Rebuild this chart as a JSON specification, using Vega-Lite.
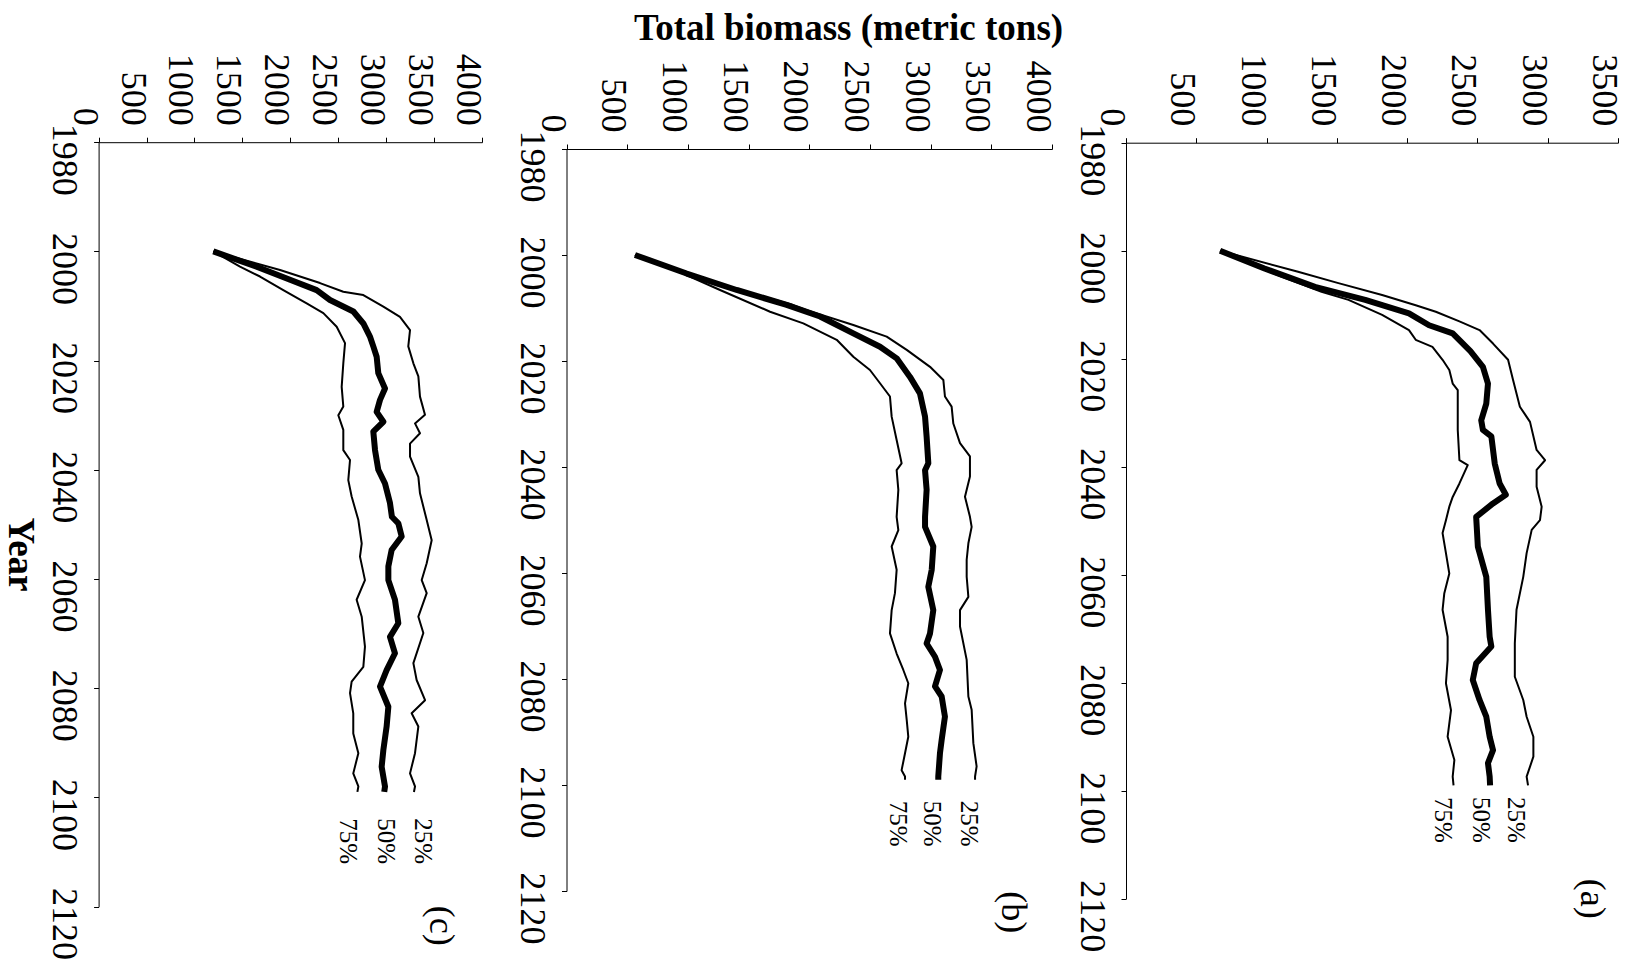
{
  "$schema": "https://vega.github.io/schema/vega-lite/v6.json",
  "width": 1628,
  "height": 965,
  "autosize": {"type": "fit", "contains": "padding"},
  "padding": 0,
  "background": "white",
  "config": {
    "view": {"stroke": null},
    "font": "Liberation Serif",
    "axis": {
      "grid": false, "domainColor": "black", "tickColor": "black", "labelColor": "black", "titleColor": "black",
      "labelFont": "Liberation Serif", "titleFont": "Liberation Serif", "labelFontSize": 36,
      "tickSize": 5, "domainWidth": 1, "tickWidth": 1, "labelOverlap": false, "labelFlush": false, "labelBound": false
    }
  },
  "datasets": {
    "lines": [
      {"p":"a","q":"50%","year":2000.0,"biomass":669},{"p":"a","q":"50%","year":2003.3,"biomass":985},{"p":"a","q":"50%","year":2006.7,"biomass":1344},{"p":"a","q":"50%","year":2009.1,"biomass":1702},{"p":"a","q":"50%","year":2011.6,"biomass":2013},{"p":"a","q":"50%","year":2013.8,"biomass":2156},{"p":"a","q":"50%","year":2015.3,"biomass":2324},{"p":"a","q":"50%","year":2018.6,"biomass":2450},{"p":"a","q":"50%","year":2021.5,"biomass":2539},{"p":"a","q":"50%","year":2024.6,"biomass":2575},{"p":"a","q":"50%","year":2028.3,"biomass":2563},{"p":"a","q":"50%","year":2031.4,"biomass":2527},{"p":"a","q":"50%","year":2033.2,"biomass":2539},{"p":"a","q":"50%","year":2034.4,"biomass":2599},{"p":"a","q":"50%","year":2039.4,"biomass":2623},{"p":"a","q":"50%","year":2043.1,"biomass":2658},{"p":"a","q":"50%","year":2045.2,"biomass":2702},{"p":"a","q":"50%","year":2046.8,"biomass":2611},{"p":"a","q":"50%","year":2049.3,"biomass":2491},{"p":"a","q":"50%","year":2054.8,"biomass":2503},{"p":"a","q":"50%","year":2060.4,"biomass":2563},{"p":"a","q":"50%","year":2066.5,"biomass":2575},{"p":"a","q":"50%","year":2071.5,"biomass":2587},{"p":"a","q":"50%","year":2073.3,"biomass":2599},{"p":"a","q":"50%","year":2076.4,"biomass":2491},{"p":"a","q":"50%","year":2079.5,"biomass":2467},{"p":"a","q":"50%","year":2083.2,"biomass":2515},{"p":"a","q":"50%","year":2086.3,"biomass":2563},{"p":"a","q":"50%","year":2090.0,"biomass":2587},{"p":"a","q":"50%","year":2092.5,"biomass":2611},{"p":"a","q":"50%","year":2094.9,"biomass":2575},{"p":"a","q":"50%","year":2097.4,"biomass":2587},{"p":"a","q":"50%","year":2099.0,"biomass":2590},
      {"p":"a","q":"25%","year":2000.0,"biomass":669},{"p":"a","q":"25%","year":2003.9,"biomass":1224},{"p":"a","q":"25%","year":2006.0,"biomass":1511},{"p":"a","q":"25%","year":2008.2,"biomass":1822},{"p":"a","q":"25%","year":2010.1,"biomass":2061},{"p":"a","q":"25%","year":2011.3,"biomass":2204},{"p":"a","q":"25%","year":2013.1,"biomass":2372},{"p":"a","q":"25%","year":2014.7,"biomass":2515},{"p":"a","q":"25%","year":2017.2,"biomass":2611},{"p":"a","q":"25%","year":2020.2,"biomass":2718},{"p":"a","q":"25%","year":2024.0,"biomass":2754},{"p":"a","q":"25%","year":2028.9,"biomass":2802},{"p":"a","q":"25%","year":2031.7,"biomass":2874},{"p":"a","q":"25%","year":2036.9,"biomass":2921},{"p":"a","q":"25%","year":2038.8,"biomass":2981},{"p":"a","q":"25%","year":2040.6,"biomass":2921},{"p":"a","q":"25%","year":2043.7,"biomass":2921},{"p":"a","q":"25%","year":2047.4,"biomass":2957},{"p":"a","q":"25%","year":2049.9,"biomass":2945},{"p":"a","q":"25%","year":2051.7,"biomass":2886},{"p":"a","q":"25%","year":2056.0,"biomass":2850},{"p":"a","q":"25%","year":2060.4,"biomass":2826},{"p":"a","q":"25%","year":2066.5,"biomass":2778},{"p":"a","q":"25%","year":2072.7,"biomass":2766},{"p":"a","q":"25%","year":2078.9,"biomass":2766},{"p":"a","q":"25%","year":2083.2,"biomass":2826},{"p":"a","q":"25%","year":2086.3,"biomass":2850},{"p":"a","q":"25%","year":2090.0,"biomass":2898},{"p":"a","q":"25%","year":2093.7,"biomass":2898},{"p":"a","q":"25%","year":2097.4,"biomass":2850},{"p":"a","q":"25%","year":2099.0,"biomass":2860},
      {"p":"a","q":"75%","year":2000.0,"biomass":669},{"p":"a","q":"75%","year":2004.8,"biomass":1105},{"p":"a","q":"75%","year":2007.6,"biomass":1391},{"p":"a","q":"75%","year":2009.1,"biomass":1583},{"p":"a","q":"75%","year":2011.9,"biomass":1822},{"p":"a","q":"75%","year":2014.7,"biomass":2013},{"p":"a","q":"75%","year":2016.5,"biomass":2061},{"p":"a","q":"75%","year":2017.8,"biomass":2180},{"p":"a","q":"75%","year":2020.2,"biomass":2252},{"p":"a","q":"75%","year":2022.1,"biomass":2300},{"p":"a","q":"75%","year":2024.6,"biomass":2324},{"p":"a","q":"75%","year":2025.8,"biomass":2360},{"p":"a","q":"75%","year":2033.2,"biomass":2360},{"p":"a","q":"75%","year":2038.8,"biomass":2372},{"p":"a","q":"75%","year":2039.7,"biomass":2431},{"p":"a","q":"75%","year":2043.1,"biomass":2372},{"p":"a","q":"75%","year":2045.6,"biomass":2324},{"p":"a","q":"75%","year":2047.4,"biomass":2300},{"p":"a","q":"75%","year":2049.9,"biomass":2276},{"p":"a","q":"75%","year":2052.3,"biomass":2252},{"p":"a","q":"75%","year":2056.0,"biomass":2276},{"p":"a","q":"75%","year":2059.8,"biomass":2300},{"p":"a","q":"75%","year":2063.5,"biomass":2264},{"p":"a","q":"75%","year":2066.5,"biomass":2252},{"p":"a","q":"75%","year":2071.5,"biomass":2288},{"p":"a","q":"75%","year":2075.8,"biomass":2288},{"p":"a","q":"75%","year":2080.1,"biomass":2276},{"p":"a","q":"75%","year":2085.1,"biomass":2312},{"p":"a","q":"75%","year":2090.0,"biomass":2288},{"p":"a","q":"75%","year":2094.3,"biomass":2336},{"p":"a","q":"75%","year":2097.4,"biomass":2324},{"p":"a","q":"75%","year":2099.0,"biomass":2330},
      {"p":"b","q":"50%","year":2000.0,"biomass":564},{"p":"b","q":"50%","year":2003.5,"biomass":990},{"p":"b","q":"50%","year":2006.6,"biomass":1402},{"p":"b","q":"50%","year":2009.4,"biomass":1814},{"p":"b","q":"50%","year":2011.6,"biomass":2089},{"p":"b","q":"50%","year":2014.8,"biomass":2363},{"p":"b","q":"50%","year":2017.3,"biomass":2583},{"p":"b","q":"50%","year":2019.5,"biomass":2720},{"p":"b","q":"50%","year":2023.0,"biomass":2830},{"p":"b","q":"50%","year":2026.1,"biomass":2912},{"p":"b","q":"50%","year":2030.5,"biomass":2954},{"p":"b","q":"50%","year":2034.3,"biomass":2967},{"p":"b","q":"50%","year":2039.3,"biomass":2981},{"p":"b","q":"50%","year":2040.6,"biomass":2954},{"p":"b","q":"50%","year":2044.3,"biomass":2967},{"p":"b","q":"50%","year":2049.4,"biomass":2954},{"p":"b","q":"50%","year":2051.3,"biomass":2954},{"p":"b","q":"50%","year":2055.0,"biomass":3022},{"p":"b","q":"50%","year":2059.4,"biomass":3009},{"p":"b","q":"50%","year":2062.6,"biomass":2981},{"p":"b","q":"50%","year":2067.0,"biomass":3022},{"p":"b","q":"50%","year":2071.4,"biomass":2995},{"p":"b","q":"50%","year":2073.3,"biomass":2967},{"p":"b","q":"50%","year":2075.8,"biomass":3036},{"p":"b","q":"50%","year":2078.3,"biomass":3077},{"p":"b","q":"50%","year":2081.4,"biomass":3036},{"p":"b","q":"50%","year":2083.3,"biomass":3091},{"p":"b","q":"50%","year":2087.1,"biomass":3118},{"p":"b","q":"50%","year":2091.5,"biomass":3091},{"p":"b","q":"50%","year":2094.0,"biomass":3077},{"p":"b","q":"50%","year":2098.4,"biomass":3063},{"p":"b","q":"50%","year":2099.0,"biomass":3063},
      {"p":"b","q":"25%","year":2000.0,"biomass":564},{"p":"b","q":"25%","year":2003.5,"biomass":1010},{"p":"b","q":"25%","year":2006.6,"biomass":1430},{"p":"b","q":"25%","year":2009.4,"biomass":1860},{"p":"b","q":"25%","year":2010.4,"biomass":1979},{"p":"b","q":"25%","year":2013.2,"biomass":2363},{"p":"b","q":"25%","year":2015.4,"biomass":2638},{"p":"b","q":"25%","year":2017.9,"biomass":2803},{"p":"b","q":"25%","year":2021.1,"biomass":2995},{"p":"b","q":"25%","year":2023.6,"biomass":3105},{"p":"b","q":"25%","year":2026.7,"biomass":3118},{"p":"b","q":"25%","year":2028.6,"biomass":3173},{"p":"b","q":"25%","year":2031.8,"biomass":3187},{"p":"b","q":"25%","year":2035.5,"biomass":3242},{"p":"b","q":"25%","year":2038.0,"biomass":3324},{"p":"b","q":"25%","year":2041.8,"biomass":3324},{"p":"b","q":"25%","year":2045.6,"biomass":3283},{"p":"b","q":"25%","year":2049.4,"biomass":3324},{"p":"b","q":"25%","year":2051.3,"biomass":3338},{"p":"b","q":"25%","year":2054.4,"biomass":3311},{"p":"b","q":"25%","year":2057.5,"biomass":3297},{"p":"b","q":"25%","year":2060.7,"biomass":3297},{"p":"b","q":"25%","year":2064.5,"biomass":3311},{"p":"b","q":"25%","year":2067.0,"biomass":3242},{"p":"b","q":"25%","year":2070.1,"biomass":3242},{"p":"b","q":"25%","year":2076.4,"biomass":3297},{"p":"b","q":"25%","year":2083.3,"biomass":3311},{"p":"b","q":"25%","year":2085.8,"biomass":3338},{"p":"b","q":"25%","year":2092.1,"biomass":3352},{"p":"b","q":"25%","year":2096.5,"biomass":3379},{"p":"b","q":"25%","year":2098.4,"biomass":3366},{"p":"b","q":"25%","year":2099.0,"biomass":3366},
      {"p":"b","q":"75%","year":2000.0,"biomass":564},{"p":"b","q":"75%","year":2003.5,"biomass":960},{"p":"b","q":"75%","year":2006.6,"biomass":1265},{"p":"b","q":"75%","year":2010.7,"biomass":1677},{"p":"b","q":"75%","year":2012.9,"biomass":1951},{"p":"b","q":"75%","year":2016.0,"biomass":2226},{"p":"b","q":"75%","year":2019.2,"biomass":2363},{"p":"b","q":"75%","year":2021.7,"biomass":2500},{"p":"b","q":"75%","year":2024.2,"biomass":2583},{"p":"b","q":"75%","year":2026.7,"biomass":2665},{"p":"b","q":"75%","year":2030.5,"biomass":2679},{"p":"b","q":"75%","year":2034.9,"biomass":2720},{"p":"b","q":"75%","year":2039.3,"biomass":2761},{"p":"b","q":"75%","year":2040.6,"biomass":2720},{"p":"b","q":"75%","year":2044.3,"biomass":2734},{"p":"b","q":"75%","year":2049.4,"biomass":2720},{"p":"b","q":"75%","year":2051.9,"biomass":2734},{"p":"b","q":"75%","year":2055.0,"biomass":2679},{"p":"b","q":"75%","year":2059.4,"biomass":2720},{"p":"b","q":"75%","year":2063.8,"biomass":2706},{"p":"b","q":"75%","year":2067.0,"biomass":2679},{"p":"b","q":"75%","year":2071.4,"biomass":2665},{"p":"b","q":"75%","year":2075.2,"biomass":2720},{"p":"b","q":"75%","year":2078.3,"biomass":2775},{"p":"b","q":"75%","year":2080.8,"biomass":2816},{"p":"b","q":"75%","year":2084.6,"biomass":2789},{"p":"b","q":"75%","year":2087.7,"biomass":2803},{"p":"b","q":"75%","year":2090.9,"biomass":2816},{"p":"b","q":"75%","year":2094.0,"biomass":2789},{"p":"b","q":"75%","year":2097.2,"biomass":2761},{"p":"b","q":"75%","year":2098.4,"biomass":2789},{"p":"b","q":"75%","year":2099.0,"biomass":2789},
      {"p":"c","q":"50%","year":2000.0,"biomass":1197},{"p":"c","q":"50%","year":2002.8,"biomass":1649},{"p":"c","q":"50%","year":2005.2,"biomass":1997},{"p":"c","q":"50%","year":2007.1,"biomass":2275},{"p":"c","q":"50%","year":2008.9,"biomass":2414},{"p":"c","q":"50%","year":2011.0,"biomass":2658},{"p":"c","q":"50%","year":2013.2,"biomass":2762},{"p":"c","q":"50%","year":2015.6,"biomass":2831},{"p":"c","q":"50%","year":2017.4,"biomass":2866},{"p":"c","q":"50%","year":2019.3,"biomass":2901},{"p":"c","q":"50%","year":2022.3,"biomass":2918},{"p":"c","q":"50%","year":2025.1,"biomass":2988},{"p":"c","q":"50%","year":2027.2,"biomass":2936},{"p":"c","q":"50%","year":2029.4,"biomass":2901},{"p":"c","q":"50%","year":2031.2,"biomass":2971},{"p":"c","q":"50%","year":2033.0,"biomass":2866},{"p":"c","q":"50%","year":2036.4,"biomass":2884},{"p":"c","q":"50%","year":2040.0,"biomass":2918},{"p":"c","q":"50%","year":2042.5,"biomass":2988},{"p":"c","q":"50%","year":2046.1,"biomass":3040},{"p":"c","q":"50%","year":2048.6,"biomass":3060},{"p":"c","q":"50%","year":2049.8,"biomass":3127},{"p":"c","q":"50%","year":2052.2,"biomass":3162},{"p":"c","q":"50%","year":2054.7,"biomass":3057},{"p":"c","q":"50%","year":2057.7,"biomass":3023},{"p":"c","q":"50%","year":2060.2,"biomass":3023},{"p":"c","q":"50%","year":2063.8,"biomass":3092},{"p":"c","q":"50%","year":2068.1,"biomass":3127},{"p":"c","q":"50%","year":2070.6,"biomass":3040},{"p":"c","q":"50%","year":2073.6,"biomass":3092},{"p":"c","q":"50%","year":2076.7,"biomass":3005},{"p":"c","q":"50%","year":2079.7,"biomass":2936},{"p":"c","q":"50%","year":2083.4,"biomass":3023},{"p":"c","q":"50%","year":2087.0,"biomass":3005},{"p":"c","q":"50%","year":2091.3,"biomass":2971},{"p":"c","q":"50%","year":2094.4,"biomass":2953},{"p":"c","q":"50%","year":2098.0,"biomass":2988},{"p":"c","q":"50%","year":2099.0,"biomass":2980},
      {"p":"c","q":"25%","year":2000.0,"biomass":1197},{"p":"c","q":"25%","year":2003.4,"biomass":1893},{"p":"c","q":"25%","year":2005.8,"biomass":2310},{"p":"c","q":"25%","year":2007.4,"biomass":2553},{"p":"c","q":"25%","year":2008.0,"biomass":2762},{"p":"c","q":"25%","year":2010.1,"biomass":2971},{"p":"c","q":"25%","year":2012.0,"biomass":3144},{"p":"c","q":"25%","year":2014.4,"biomass":3249},{"p":"c","q":"25%","year":2017.4,"biomass":3231},{"p":"c","q":"25%","year":2020.5,"biomass":3284},{"p":"c","q":"25%","year":2022.9,"biomass":3336},{"p":"c","q":"25%","year":2026.6,"biomass":3353},{"p":"c","q":"25%","year":2029.9,"biomass":3405},{"p":"c","q":"25%","year":2031.5,"biomass":3301},{"p":"c","q":"25%","year":2033.3,"biomass":3353},{"p":"c","q":"25%","year":2035.2,"biomass":3249},{"p":"c","q":"25%","year":2037.6,"biomass":3249},{"p":"c","q":"25%","year":2041.3,"biomass":3336},{"p":"c","q":"25%","year":2044.3,"biomass":3353},{"p":"c","q":"25%","year":2049.2,"biomass":3423},{"p":"c","q":"25%","year":2052.9,"biomass":3475},{"p":"c","q":"25%","year":2057.1,"biomass":3423},{"p":"c","q":"25%","year":2060.2,"biomass":3371},{"p":"c","q":"25%","year":2062.6,"biomass":3423},{"p":"c","q":"25%","year":2066.9,"biomass":3336},{"p":"c","q":"25%","year":2069.9,"biomass":3388},{"p":"c","q":"25%","year":2075.4,"biomass":3284},{"p":"c","q":"25%","year":2078.5,"biomass":3318},{"p":"c","q":"25%","year":2082.2,"biomass":3406},{"p":"c","q":"25%","year":2084.6,"biomass":3266},{"p":"c","q":"25%","year":2087.0,"biomass":3336},{"p":"c","q":"25%","year":2091.9,"biomass":3301},{"p":"c","q":"25%","year":2095.6,"biomass":3249},{"p":"c","q":"25%","year":2098.0,"biomass":3301},{"p":"c","q":"25%","year":2099.0,"biomass":3290},
      {"p":"c","q":"75%","year":2000.0,"biomass":1197},{"p":"c","q":"75%","year":2002.8,"biomass":1475},{"p":"c","q":"75%","year":2004.6,"biomass":1684},{"p":"c","q":"75%","year":2007.1,"biomass":1927},{"p":"c","q":"75%","year":2009.5,"biomass":2171},{"p":"c","q":"75%","year":2011.3,"biomass":2345},{"p":"c","q":"75%","year":2013.8,"biomass":2484},{"p":"c","q":"75%","year":2016.8,"biomass":2571},{"p":"c","q":"75%","year":2020.5,"biomass":2553},{"p":"c","q":"75%","year":2024.8,"biomass":2536},{"p":"c","q":"75%","year":2028.4,"biomass":2553},{"p":"c","q":"75%","year":2030.0,"biomass":2501},{"p":"c","q":"75%","year":2032.7,"biomass":2553},{"p":"c","q":"75%","year":2036.4,"biomass":2553},{"p":"c","q":"75%","year":2038.2,"biomass":2623},{"p":"c","q":"75%","year":2041.9,"biomass":2605},{"p":"c","q":"75%","year":2044.9,"biomass":2640},{"p":"c","q":"75%","year":2049.2,"biomass":2710},{"p":"c","q":"75%","year":2053.5,"biomass":2745},{"p":"c","q":"75%","year":2055.9,"biomass":2727},{"p":"c","q":"75%","year":2060.2,"biomass":2779},{"p":"c","q":"75%","year":2063.8,"biomass":2692},{"p":"c","q":"75%","year":2066.9,"biomass":2745},{"p":"c","q":"75%","year":2072.4,"biomass":2779},{"p":"c","q":"75%","year":2076.1,"biomass":2762},{"p":"c","q":"75%","year":2078.8,"biomass":2640},{"p":"c","q":"75%","year":2080.9,"biomass":2623},{"p":"c","q":"75%","year":2084.6,"biomass":2657},{"p":"c","q":"75%","year":2088.3,"biomass":2657},{"p":"c","q":"75%","year":2091.9,"biomass":2710},{"p":"c","q":"75%","year":2095.6,"biomass":2657},{"p":"c","q":"75%","year":2098.0,"biomass":2710},{"p":"c","q":"75%","year":2099.0,"biomass":2700}
    ],
    "labels": [
      {"p":"c","kind":"pct","label":"25%","year":2108,"biomass":3385},
      {"p":"c","kind":"pct","label":"50%","year":2108,"biomass":2995},
      {"p":"c","kind":"pct","label":"75%","year":2108,"biomass":2604},
      {"p":"c","kind":"panel","label":"(c)","year":2123.5,"biomass":3572},
      {"p":"b","kind":"pct","label":"25%","year":2107.3,"biomass":3314},
      {"p":"b","kind":"pct","label":"50%","year":2107.3,"biomass":3015},
      {"p":"b","kind":"pct","label":"75%","year":2107.3,"biomass":2731},
      {"p":"b","kind":"panel","label":"(b)","year":2124,"biomass":3677},
      {"p":"a","kind":"pct","label":"25%","year":2105.4,"biomass":2777},
      {"p":"a","kind":"pct","label":"50%","year":2105.4,"biomass":2528},
      {"p":"a","kind":"pct","label":"75%","year":2105.4,"biomass":2252},
      {"p":"a","kind":"panel","label":"(a)","year":2120,"biomass":3314}
    ]
  },
  "layer": [
    {
      "encoding": {
        "x": {"field": "biomass", "type": "quantitative",
          "scale": {"domain": [0, 4000], "range": [98.6, 482], "nice": false, "zero": false},
          "axis": {"orient": "top", "offset": -142.2, "values": [0,500,1000,1500,2000,2500,3000,3500,4000], "format": "d", "title": null,
            "labelAngle": 90, "labelAlign": "right", "labelBaseline": "top", "labelPadding": 12, "labelOffset": 2.5}},
        "y": {"field": "year", "type": "quantitative",
          "scale": {"domain": [1980, 2120], "range": [142.2, 906.6], "nice": false, "zero": false},
          "axis": {"orient": "left", "offset": -98.6, "values": [1980,2000,2020,2040,2060,2080,2100,2120], "format": "d",
            "labelAngle": 90, "labelAlign": "center", "labelBaseline": "top", "labelPadding": 13, "labelOffset": 17,
            "title": "Year", "titleFontSize": 37, "titleFontWeight": "bold", "titleAngle": 90, "titleX": -79.6, "titleY": 554, "titleAlign": "center", "titleBaseline": "middle"}}
      },
      "layer": [
        {"data": {"name": "lines"}, "transform": [{"filter": "datum.p === 'c' && datum.q !== '50%'"}],
          "mark": {"type": "line", "color": "black", "strokeWidth": 2, "strokeJoin": "round"},
          "encoding": {"detail": {"field": "q"}, "order": {"field": "year", "type": "quantitative"}}},
        {"data": {"name": "lines"}, "transform": [{"filter": "datum.p === 'c' && datum.q === '50%'"}],
          "mark": {"type": "line", "color": "black", "strokeWidth": 6, "strokeJoin": "round"},
          "encoding": {"order": {"field": "year", "type": "quantitative"}}},
        {"data": {"name": "labels"}, "transform": [{"filter": "datum.p === 'c' && datum.kind === 'pct'"}],
          "mark": {"type": "text", "angle": 90, "align": "center", "baseline": "middle", "fontSize": 25, "font": "Liberation Serif", "color": "black"},
          "encoding": {"text": {"field": "label"}}},
        {"data": {"name": "labels"}, "transform": [{"filter": "datum.p === 'c' && datum.kind === 'panel'"}],
          "mark": {"type": "text", "angle": 90, "align": "center", "baseline": "middle", "fontSize": 36, "font": "Liberation Serif", "color": "black"},
          "encoding": {"text": {"field": "label"}}}
      ]
    },
    {
      "encoding": {
        "x": {"field": "biomass", "type": "quantitative",
          "scale": {"domain": [0, 4000], "range": [566.5, 1052], "nice": false, "zero": false},
          "axis": {"orient": "top", "offset": -149, "values": [0,500,1000,1500,2000,2500,3000,3500,4000], "format": "d",
            "labelAngle": 90, "labelAlign": "right", "labelBaseline": "top", "labelPadding": 12, "labelOffset": 2.5,
            "title": "Total biomass (metric tons)", "titleFontSize": 37, "titleFontWeight": "bold", "titleAngle": 0, "titleX": 848, "titleY": -120.3, "titleAlign": "center", "titleBaseline": "middle"}},
        "y": {"field": "year", "type": "quantitative",
          "scale": {"domain": [1980, 2120], "range": [149, 891], "nice": false, "zero": false},
          "axis": {"orient": "left", "offset": -566.5, "values": [1980,2000,2020,2040,2060,2080,2100,2120], "format": "d", "title": null,
            "labelAngle": 90, "labelAlign": "center", "labelBaseline": "top", "labelPadding": 13, "labelOffset": 17}}
      },
      "layer": [
        {"data": {"name": "lines"}, "transform": [{"filter": "datum.p === 'b' && datum.q !== '50%'"}],
          "mark": {"type": "line", "color": "black", "strokeWidth": 2, "strokeJoin": "round"},
          "encoding": {"detail": {"field": "q"}, "order": {"field": "year", "type": "quantitative"}}},
        {"data": {"name": "lines"}, "transform": [{"filter": "datum.p === 'b' && datum.q === '50%'"}],
          "mark": {"type": "line", "color": "black", "strokeWidth": 6, "strokeJoin": "round"},
          "encoding": {"order": {"field": "year", "type": "quantitative"}}},
        {"data": {"name": "labels"}, "transform": [{"filter": "datum.p === 'b' && datum.kind === 'pct'"}],
          "mark": {"type": "text", "angle": 90, "align": "center", "baseline": "middle", "fontSize": 25, "font": "Liberation Serif", "color": "black"},
          "encoding": {"text": {"field": "label"}}},
        {"data": {"name": "labels"}, "transform": [{"filter": "datum.p === 'b' && datum.kind === 'panel'"}],
          "mark": {"type": "text", "angle": 90, "align": "center", "baseline": "middle", "fontSize": 36, "font": "Liberation Serif", "color": "black"},
          "encoding": {"text": {"field": "label"}}}
      ]
    },
    {
      "encoding": {
        "x": {"field": "biomass", "type": "quantitative",
          "scale": {"domain": [0, 3500], "range": [1126, 1618], "nice": false, "zero": false},
          "axis": {"orient": "top", "offset": -142.7, "values": [0,500,1000,1500,2000,2500,3000,3500], "format": "d", "title": null,
            "labelAngle": 90, "labelAlign": "right", "labelBaseline": "top", "labelPadding": 12, "labelOffset": 2.5}},
        "y": {"field": "year", "type": "quantitative",
          "scale": {"domain": [1980, 2120], "range": [142.7, 898.7], "nice": false, "zero": false},
          "axis": {"orient": "left", "offset": -1126, "values": [1980,2000,2020,2040,2060,2080,2100,2120], "format": "d", "title": null,
            "labelAngle": 90, "labelAlign": "center", "labelBaseline": "top", "labelPadding": 13, "labelOffset": 17}}
      },
      "layer": [
        {"data": {"name": "lines"}, "transform": [{"filter": "datum.p === 'a' && datum.q !== '50%'"}],
          "mark": {"type": "line", "color": "black", "strokeWidth": 2, "strokeJoin": "round"},
          "encoding": {"detail": {"field": "q"}, "order": {"field": "year", "type": "quantitative"}}},
        {"data": {"name": "lines"}, "transform": [{"filter": "datum.p === 'a' && datum.q === '50%'"}],
          "mark": {"type": "line", "color": "black", "strokeWidth": 6, "strokeJoin": "round"},
          "encoding": {"order": {"field": "year", "type": "quantitative"}}},
        {"data": {"name": "labels"}, "transform": [{"filter": "datum.p === 'a' && datum.kind === 'pct'"}],
          "mark": {"type": "text", "angle": 90, "align": "center", "baseline": "middle", "fontSize": 25, "font": "Liberation Serif", "color": "black"},
          "encoding": {"text": {"field": "label"}}},
        {"data": {"name": "labels"}, "transform": [{"filter": "datum.p === 'a' && datum.kind === 'panel'"}],
          "mark": {"type": "text", "angle": 90, "align": "center", "baseline": "middle", "fontSize": 36, "font": "Liberation Serif", "color": "black"},
          "encoding": {"text": {"field": "label"}}}
      ]
    }
  ],
  "resolve": {"scale": {"x": "independent", "y": "independent"}, "axis": {"x": "independent", "y": "independent"}}
}
